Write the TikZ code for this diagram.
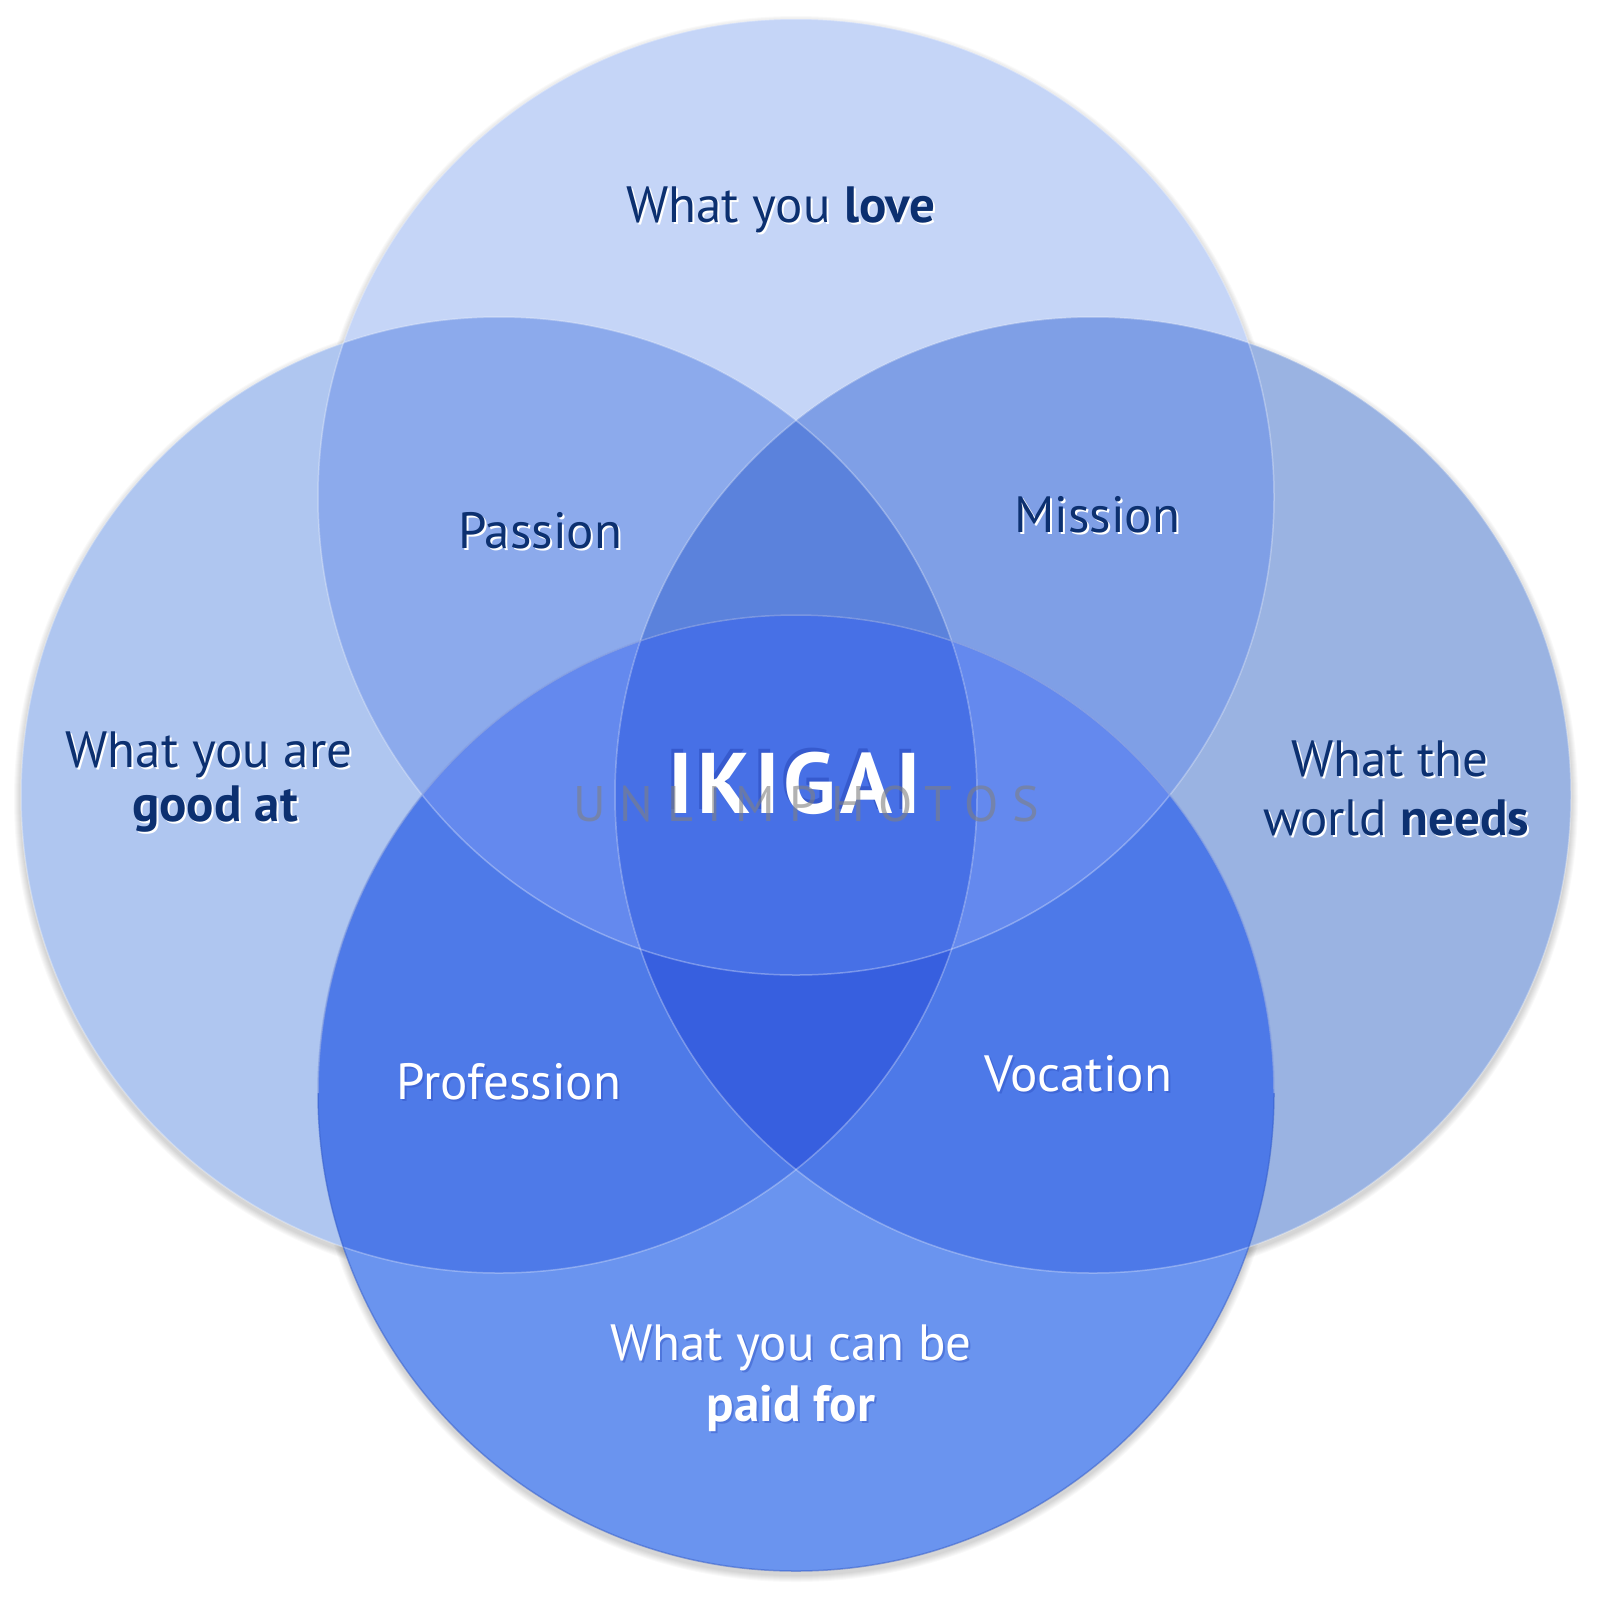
\documentclass[tikz,border=0pt]{standalone}
\usepackage{fontspec}
\setmainfont{PT Sans}
\definecolor{cT}{HTML}{C5D5F7}
\definecolor{cL}{HTML}{AFC6F0}
\definecolor{cR}{HTML}{9AB3E2}
\definecolor{cB}{HTML}{6A94EF}
\definecolor{cTL}{HTML}{8CAAEC}
\definecolor{cTR}{HTML}{7F9FE6}
\definecolor{cLB}{HTML}{4E7AE8}
\definecolor{cRB}{HTML}{4D79E8}
\definecolor{cTB}{HTML}{6489EE}
\definecolor{cTLR}{HTML}{5B82DC}
\definecolor{cLRB}{HTML}{375FDF}
\definecolor{cALL}{HTML}{4770E6}
\definecolor{navy}{HTML}{0C3070}
\definecolor{brim}{HTML}{3A62CC}
\definecolor{ikish}{HTML}{2F52C4}
\begin{document}
\begin{tikzpicture}[x=1pt,y=-1pt,
  lbl/.style={anchor=base, inner sep=0pt, font=\fontsize{51}{58}\selectfont},
  dark/.style={lbl, text=navy},
  darksh/.style={lbl, text=white},
  light/.style={lbl, text=white},
  lightsh/.style={lbl, text=ikish, opacity=.45},
  big/.style={anchor=base, inner sep=0pt, font=\fontsize{86}{92}\selectfont\bfseries\addfontfeature{LetterSpace=5}},
  rimw/.style={draw=white, draw opacity=.3, line width=1.5pt},
  shadowc/.style={fill=black, fill opacity=.022}]
\useasboundingbox[fill=white] (0,0) rectangle (1600,1599);
\coordinate (T) at (796,497);
\coordinate (L) at (499,795);
\coordinate (R) at (1093,795);
\coordinate (B) at (796,1093);
\def\rad{478pt}
% soft drop shadows
\foreach \c in {T,L,R,B}{
  \foreach \k in {1,...,7}{
    \fill[shadowc] ([yshift=-4pt]\c) circle[radius=478pt+\k pt];
  }
}
% single circles
\fill[cT] (T) circle[radius=\rad];
\fill[cL] (L) circle[radius=\rad];
\fill[cR] (R) circle[radius=\rad];
\fill[cB] (B) circle[radius=\rad];
% pairs
\begin{scope}\clip (T) circle[radius=\rad]; \fill[cTL] (L) circle[radius=\rad];\end{scope}
\begin{scope}\clip (T) circle[radius=\rad]; \fill[cTR] (R) circle[radius=\rad];\end{scope}
\begin{scope}\clip (B) circle[radius=\rad]; \fill[cLB] (L) circle[radius=\rad];\end{scope}
\begin{scope}\clip (B) circle[radius=\rad]; \fill[cRB] (R) circle[radius=\rad];\end{scope}
\begin{scope}\clip (T) circle[radius=\rad]; \fill[cTB] (B) circle[radius=\rad];\end{scope}
% triples
\begin{scope}\clip (T) circle[radius=\rad]; \clip (L) circle[radius=\rad]; \fill[cTLR] (R) circle[radius=\rad];\end{scope}
\begin{scope}\clip (B) circle[radius=\rad]; \clip (L) circle[radius=\rad]; \fill[cLRB] (R) circle[radius=\rad];\end{scope}
% all four
\begin{scope}\clip (T) circle[radius=\rad]; \clip (L) circle[radius=\rad]; \clip (R) circle[radius=\rad]; \fill[cALL] (B) circle[radius=\rad];\end{scope}
% rims
\draw[rimw] (T) circle[radius=\rad];
\draw[rimw] (L) circle[radius=\rad];
\draw[rimw] (R) circle[radius=\rad];
\draw[draw=brim, draw opacity=.55, line width=1.5pt] (B) circle[radius=\rad];
\draw[rimw] (B) ++(-478,0) arc[start angle=180, end angle=0, radius=\rad];

% texts: What you love
\node[darksh] (lovesh) at (783,224) {What you \textbf{love}};
\node[dark] (love) at (781,222) {What you \textbf{love}};
% good at
\node[darksh] (good1sh) at (211,769) {What you are};
\node[dark] (good1) at (209,767) {What you are};
\node[darksh] (good2sh) at (217,823) {\textbf{good at}};
\node[dark] (good2) at (215,821) {\textbf{good at}};
% world needs
\node[darksh] (world1sh) at (1392,778) {What the};
\node[dark] (world1) at (1390,776) {What the};
\node[darksh] (world2sh) at (1398,837) {world \textbf{needs}};
\node[dark] (world2) at (1396,835) {world \textbf{needs}};
% paid for
\node[lightsh] (paid1sh) at (793,1362) {What you can be};
\node[light] (paid1) at (791,1360) {What you can be};
\node[lightsh] (paid2sh) at (793,1423) {\textbf{paid for}};
\node[light] (paid2) at (791,1421) {\textbf{paid for}};
% intersections
\node[darksh] (passionsh) at (542,550) {Passion};
\node[dark] (passion) at (540,548) {Passion};
\node[darksh] (missionsh) at (1099,534) {Mission};
\node[dark] (mission) at (1097,532) {Mission};
\node[lightsh] (professionsh) at (511,1101) {Profession};
\node[light] (profession) at (509,1099) {Profession};
\node[lightsh] (vocationsh) at (1080,1093) {Vocation};
\node[light] (vocation) at (1078,1091) {Vocation};
% IKIGAI
\node[big, text=ikish, opacity=.7] (ikigaish) at (792,809) {IKIGAI};
\node[big, text=white] (ikigai) at (795,813) {IKIGAI};
% watermark
\node[anchor=base, inner sep=0pt, text=gray, opacity=.6,
      font=\fontsize{50}{56}\selectfont\addfontfeature{LetterSpace=28}] (wm) at (806,821) {UNLIMPHOTOS};
\end{tikzpicture}
\end{document}
